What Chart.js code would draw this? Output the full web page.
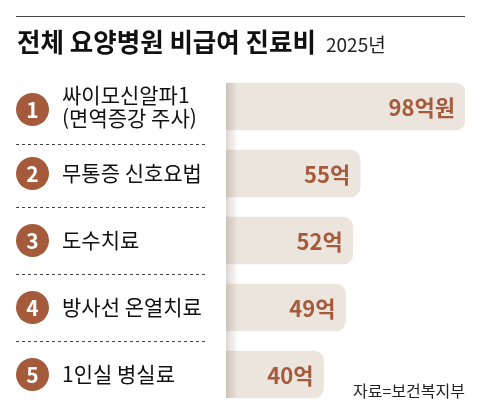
<!DOCTYPE html>
<html lang="ko">
<head>
<meta charset="UTF-8">
<title>전체 요양병원 비급여 진료비</title>
<style>
  body { margin: 0; background: #fff; }
</style>
</head>
<body>
<div style="width: 480px; height: 415px;">
  <canvas id="myChart" width="480" height="415"></canvas>
</div>
<script src="https://cdn.jsdelivr.net/npm/chart.js"></script>
<script>
// 데이터
const titleText = '전체 요양병원 비급여 진료비';
const yearText = '2025년';
const sourceText = '자료=보건복지부';
const itemLabels = [
  ['싸이모신알파1', '(면역증강 주사)'],
  ['무통증 신호요법'],
  ['도수치료'],
  ['방사선 온열치료'],
  ['1인실 병실료']
];
const itemValues = [98, 55, 52, 49, 40];
const valueLabels = ['98억원', '55억', '52억', '49억', '40억'];

const brown = '#a45a3b';
const beige = '#ece5de';
const KR = '"Noto Sans CJK KR", "Noto Sans", sans-serif';

// 제목, 번호, 라벨, 점선 등을 그리는 플러그인
const decoPlugin = {
  id: 'deco',
  afterDatasetsDraw(chart) {
    const ctx = chart.ctx;
    const y = chart.scales.y;
    const x = chart.scales.x;
    const meta = chart.getDatasetMeta(0);
    ctx.save();

    // 윗줄
    ctx.strokeStyle = '#444';
    ctx.lineWidth = 1.2;
    ctx.beginPath();
    ctx.moveTo(16, 16.5);
    ctx.lineTo(465, 16.5);
    ctx.stroke();

    // 제목 (좁은 글꼴 흉내)
    ctx.fillStyle = '#111';
    ctx.textBaseline = 'alphabetic';
    ctx.textAlign = 'left';
    ctx.font = 'bold 26px ' + KR;
    const tw = ctx.measureText(titleText).width;
    ctx.save();
    ctx.translate(17, 52);
    ctx.scale(299 / tw, 1);
    ctx.fillText(titleText, 0, 0);
    ctx.restore();
    ctx.font = '19px ' + KR;
    ctx.fillStyle = '#222';
    ctx.fillText(yearText, 326, 52);

    // 막대 왼쪽 그림자
    const top = meta.data[0].y - meta.data[0].height / 2;
    const last = meta.data[meta.data.length - 1];
    const bottom = last.y + last.height / 2;
    const left = x.getPixelForValue(0);
    const g = ctx.createLinearGradient(left, 0, left + 12, 0);
    g.addColorStop(0, 'rgba(90,70,55,0.22)');
    g.addColorStop(1, 'rgba(90,70,55,0)');
    ctx.fillStyle = g;
    ctx.fillRect(left, top, 12, bottom - top);

    // 값 라벨
    ctx.font = 'bold 22px ' + KR;
    ctx.fillStyle = brown;
    ctx.textAlign = 'right';
    ctx.textBaseline = 'middle';
    meta.data.forEach((bar, i) => {
      ctx.fillText(valueLabels[i], bar.x - 10, bar.y + 1);
    });

    // 번호 동그라미와 항목 이름
    itemLabels.forEach((lines, i) => {
      const cy = y.getPixelForValue(i);
      const cOff = lines.length > 1 ? 3 : 0;
      ctx.fillStyle = brown;
      ctx.beginPath();
      ctx.arc(32.5, cy + cOff, 16.5, 0, Math.PI * 2);
      ctx.fill();
      ctx.fillStyle = '#fff';
      ctx.font = 'bold 21px ' + KR;
      ctx.textAlign = 'center';
      ctx.fillText(String(i + 1), 32.5, cy + cOff + 1);

      ctx.fillStyle = '#111';
      ctx.font = '21px ' + KR;
      ctx.textAlign = 'left';
      const lh = 23;
      lines.forEach((t, k) => {
        ctx.fillText(t, 62, cy + (k - (lines.length - 1) / 2) * lh);
      });
    });

    // 점선
    ctx.strokeStyle = '#444';
    ctx.lineWidth = 1;
    ctx.setLineDash([3, 3]);
    for (let i = 0; i < itemLabels.length - 1; i++) {
      let ly = (y.getPixelForValue(i) + y.getPixelForValue(i + 1)) / 2;
      if (i === 0) ly += 4;
      ly = Math.round(ly) + 0.5;
      ctx.beginPath();
      ctx.moveTo(16, ly);
      ctx.lineTo(208, ly);
      ctx.stroke();
    }
    ctx.setLineDash([]);

    // 출처
    ctx.fillStyle = '#222';
    ctx.font = '16px ' + KR;
    ctx.textAlign = 'right';
    ctx.textBaseline = 'alphabetic';
    ctx.fillText(sourceText, 465, 397);

    ctx.restore();
  }
};

const ctx = document.getElementById('myChart');
new Chart(ctx, {
  type: 'bar',
  data: {
    labels: itemLabels.map(l => l.join(' ')),
    datasets: [{
      data: itemValues,
      backgroundColor: beige,
      borderRadius: 10,
      borderSkipped: 'start',
      barThickness: 47
    }]
  },
  options: {
    indexAxis: 'y',
    responsive: false,
    animation: false,
    layout: { padding: { left: 226, right: 15, top: 73, bottom: 7 } },
    scales: {
      x: { display: false, min: 0, max: 98 },
      y: { display: false }
    },
    plugins: {
      legend: { display: false },
      tooltip: { enabled: false }
    }
  },
  plugins: [decoPlugin]
});
</script>
</body>
</html>
